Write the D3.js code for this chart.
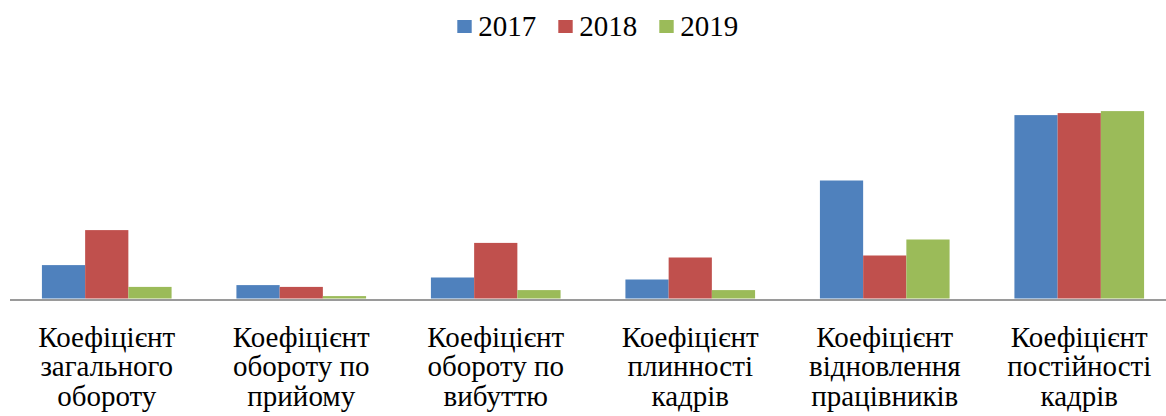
<!DOCTYPE html>
<html>
<head>
<meta charset="utf-8">
<script src="https://cdn.jsdelivr.net/npm/d3@7"></script>
<style>
  html, body { margin: 0; padding: 0; background: #fff; }
  svg { display: block; }
  svg text { font-family: "Liberation Serif", "Times New Roman", serif; }
</style>
</head>
<body>
<svg id="chart" width="1166" height="416"></svg>
<script>
// Category labels, one entry per wrapped line
const categories = [
  ["Коефіцієнт", "загального", "обороту"],
  ["Коефіцієнт", "обороту по", "прийому"],
  ["Коефіцієнт", "обороту по", "вибуттю"],
  ["Коефіцієнт", "плинності", "кадрів"],
  ["Коефіцієнт", "відновлення", "працівників"],
  ["Коефіцієнт", "постійності", "кадрів"]
];
const series = ["2017", "2018", "2019"];
const values2017 = [0.167, 0.067, 0.105, 0.095, 0.590, 0.917];
const values2018 = [0.342, 0.058, 0.278, 0.205, 0.215, 0.927];
const values2019 = [0.058, 0.012, 0.042, 0.042, 0.295, 0.937];
const colors = ["#4F81BD", "#C0504D", "#9BBB59"];

const seriesValues = [values2017, values2018, values2019];
const keys = categories.map(c => c.join(" "));

const svg = d3.select("#chart");

const x = d3.scaleBand()
  .domain(keys)
  .range([9.5, 1176.5])
  .paddingInner(1 / 3)
  .paddingOuter(1 / 6);

const xs = d3.scaleBand()
  .domain(series)
  .range([0, x.bandwidth()]);

const y = d3.scaleLinear()
  .domain([0, 1])
  .range([298.5, 98.5]);

// Bars, grouped by category, one per year
const groups = svg.append("g")
  .selectAll("g")
  .data(keys)
  .join("g")
  .attr("transform", d => `translate(${x(d)},0)`);

groups.selectAll("rect")
  .data((d, i) => series.map((s, j) => ({ s, j, v: seriesValues[j][i] })))
  .join("rect")
  .attr("x", d => xs(d.s))
  .attr("width", xs.bandwidth())
  .attr("y", d => y(d.v))
  .attr("height", d => y(0) - y(d.v))
  .attr("fill", d => colors[d.j]);

// Category axis with wrapped labels
const axis = svg.append("g")
  .attr("transform", `translate(0,${y(0) + 1})`)
  .call(d3.axisBottom(x).tickSize(0).tickFormat(""));

axis.select(".domain")
  .attr("stroke", "#9a9a9a")
  .attr("stroke-width", 2);

axis.selectAll(".tick text").remove();
axis.selectAll(".tick")
  .append("text")
  .attr("fill", "#000")
  .style("font-size", "29px")
  .attr("text-anchor", "middle")
  .attr("y", 47)
  .selectAll("tspan")
  .data((d, i) => categories[i])
  .join("tspan")
  .attr("x", 0)
  .attr("dy", (d, i) => i === 0 ? 0 : 29.8)
  .text(d => d);

// Legend
const legend = svg.append("g");
const legendX = [457.3, 558.3, 659.3];
const item = legend.selectAll("g")
  .data(series)
  .join("g")
  .attr("transform", (d, i) => `translate(${legendX[i]},0)`);

item.append("rect")
  .attr("x", 0)
  .attr("y", 20)
  .attr("width", 14.4)
  .attr("height", 13)
  .attr("fill", (d, i) => colors[i]);

item.append("text")
  .attr("x", 21)
  .attr("y", 36)
  .style("font-size", "29px")
  .attr("fill", "#000")
  .text(d => d);
</script>
</body>
</html>
